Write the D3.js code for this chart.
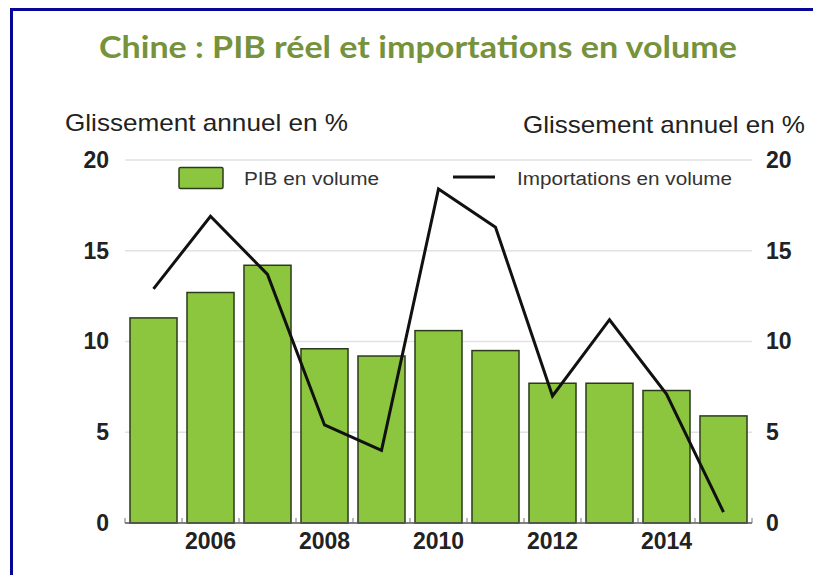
<!DOCTYPE html>
<html>
<head>
<meta charset="utf-8">
<script src="https://cdn.jsdelivr.net/npm/d3@7"></script>
<style>
  body { margin: 0; background: #fff; }
  svg { display: block; font-family: "Liberation Sans", Arial, sans-serif; }
</style>
</head>
<body>
<div id="chart"></div>
<script>
// data
const years = [2005, 2006, 2007, 2008, 2009, 2010, 2011, 2012, 2013, 2014, 2015];
const pibValues = [11.3, 12.7, 14.2, 9.6, 9.2, 10.6, 9.5, 7.7, 7.7, 7.3, 5.9];
const importValues = [12.9, 16.9, 13.7, 5.4, 4.0, 18.4, 16.3, 7.0, 11.2, 7.1, 0.6];
const yearLabels = [2006, 2008, 2010, 2012, 2014];
const yTicks = [0, 5, 10, 15, 20];
const titleText = 'Chine : PIB réel et importations en volume';
const axisTitle = 'Glissement annuel en %';
const legendLabels = ['PIB en volume', 'Importations en volume'];

const width = 813, height = 575;
const plotLeft = 125, plotRight = 752, plotTop = 160, plotBottom = 523;

const svg = d3.select('#chart').append('svg')
  .attr('width', width)
  .attr('height', height);

svg.append('rect')
  .attr('width', width).attr('height', height)
  .attr('fill', '#fff');

// blue frame (cut off on the right and bottom)
svg.append('rect')
  .attr('x', 11.5).attr('y', 9.5)
  .attr('width', 900).attr('height', 700)
  .attr('fill', 'none')
  .attr('stroke', '#060698')
  .attr('stroke-width', 3);

let x = d3.scaleBand()
  .domain(years)
  .range([plotLeft, plotRight])
  .paddingInner(0.175)
  .paddingOuter(0.0875);

let y = d3.scaleLinear()
  .domain([0, 20])
  .range([plotBottom, plotTop]);

// title
svg.append('text')
  .attr('x', 418).attr('y', 58)
  .attr('text-anchor', 'middle')
  .attr('fill', '#76923c')
  .style('font-family', 'Lato, "Open Sans", sans-serif')
  .style('font-weight', 700)
  .style('font-size', '30px')
  .attr('textLength', 638)
  .attr('lengthAdjust', 'spacingAndGlyphs')
  .text(titleText);

// axis titles
svg.append('text')
  .attr('x', 65).attr('y', 131)
  .attr('fill', '#222')
  .style('font-size', '24px')
  .attr('textLength', 283)
  .attr('lengthAdjust', 'spacingAndGlyphs')
  .text(axisTitle);

svg.append('text')
  .attr('x', 523).attr('y', 133)
  .attr('fill', '#222')
  .style('font-size', '24px')
  .attr('textLength', 282)
  .attr('lengthAdjust', 'spacingAndGlyphs')
  .text(axisTitle);

// gridlines
svg.append('g')
  .selectAll('line')
  .data(yTicks.filter(d => d > 0))
  .enter()
  .append('line')
  .attr('x1', plotLeft).attr('x2', plotRight)
  .attr('y1', d => y(d)).attr('y2', d => y(d))
  .attr('stroke', '#e2e2e2')
  .attr('stroke-width', 1.5);

// y axes (labels only)
let leftAxis = svg.append('g')
  .attr('transform', 'translate(109,0)')
  .call(d3.axisLeft(y).tickValues(yTicks).tickSize(0).tickPadding(0));
let rightAxis = svg.append('g')
  .attr('transform', 'translate(766,0)')
  .call(d3.axisRight(y).tickValues(yTicks).tickSize(0).tickPadding(0));
[leftAxis, rightAxis].forEach(function(g) {
  g.select('.domain').remove();
  g.selectAll('text')
    .attr('fill', '#222')
    .style('font-size', '23px')
    .style('font-weight', 'bold')
    .style('font-family', '"Liberation Sans", Arial, sans-serif');
});

// bars
svg.append('g')
  .selectAll('rect')
  .data(years.map((yr, i) => ({year: yr, value: pibValues[i]})))
  .enter()
  .append('rect')
  .attr('x', d => x(d.year))
  .attr('y', d => y(d.value))
  .attr('width', x.bandwidth())
  .attr('height', d => y(0) - y(d.value))
  .attr('fill', '#8cc63f')
  .attr('stroke', '#2c3a1c')
  .attr('stroke-width', 1.5);

// x axis line with small ticks at the band edges
let gap = x.step() * x.paddingInner() / 2;
let edges = years.map(yr => x(yr) - gap).concat([x(years[years.length - 1]) + x.bandwidth() + gap]);
svg.append('line')
  .attr('x1', plotLeft).attr('x2', plotRight)
  .attr('y1', plotBottom).attr('y2', plotBottom)
  .attr('stroke', '#555')
  .attr('stroke-width', 1.5);
svg.append('g')
  .selectAll('line')
  .data(edges)
  .enter()
  .append('line')
  .attr('x1', d => d).attr('x2', d => d)
  .attr('y1', plotBottom).attr('y2', plotBottom - 5)
  .attr('stroke', '#777')
  .attr('stroke-width', 1);

let bottomAxis = svg.append('g')
  .attr('transform', 'translate(0,' + plotBottom + ')')
  .call(d3.axisBottom(x).tickValues(yearLabels).tickSize(0).tickPadding(10));
bottomAxis.select('.domain').remove();
bottomAxis.selectAll('text')
  .attr('fill', '#222')
  .style('font-size', '23px')
  .style('font-weight', 'bold')
  .style('font-family', '"Liberation Sans", Arial, sans-serif');

// import line
let line = d3.line()
  .x((d, i) => x(years[i]) + x.bandwidth() / 2)
  .y(d => y(d));
svg.append('path')
  .datum(importValues)
  .attr('d', line)
  .attr('fill', 'none')
  .attr('stroke', '#111')
  .attr('stroke-width', 3)
  .attr('stroke-linejoin', 'miter');

// legend
let legend = svg.append('g');
legend.append('rect')
  .attr('x', 179).attr('y', 167.5)
  .attr('width', 44).attr('height', 21)
  .attr('rx', 1.5)
  .attr('fill', '#8cc63f')
  .attr('stroke', '#2c3a1c')
  .attr('stroke-width', 1.5);
legend.append('text')
  .attr('x', 244).attr('y', 185)
  .attr('fill', '#333')
  .style('font-size', '18px')
  .attr('textLength', 135)
  .attr('lengthAdjust', 'spacingAndGlyphs')
  .text(legendLabels[0]);
legend.append('line')
  .attr('x1', 453).attr('x2', 495)
  .attr('y1', 177).attr('y2', 177)
  .attr('stroke', '#111')
  .attr('stroke-width', 3);
legend.append('text')
  .attr('x', 517).attr('y', 185)
  .attr('fill', '#333')
  .style('font-size', '18px')
  .attr('textLength', 215)
  .attr('lengthAdjust', 'spacingAndGlyphs')
  .text(legendLabels[1]);
</script>
</body>
</html>
